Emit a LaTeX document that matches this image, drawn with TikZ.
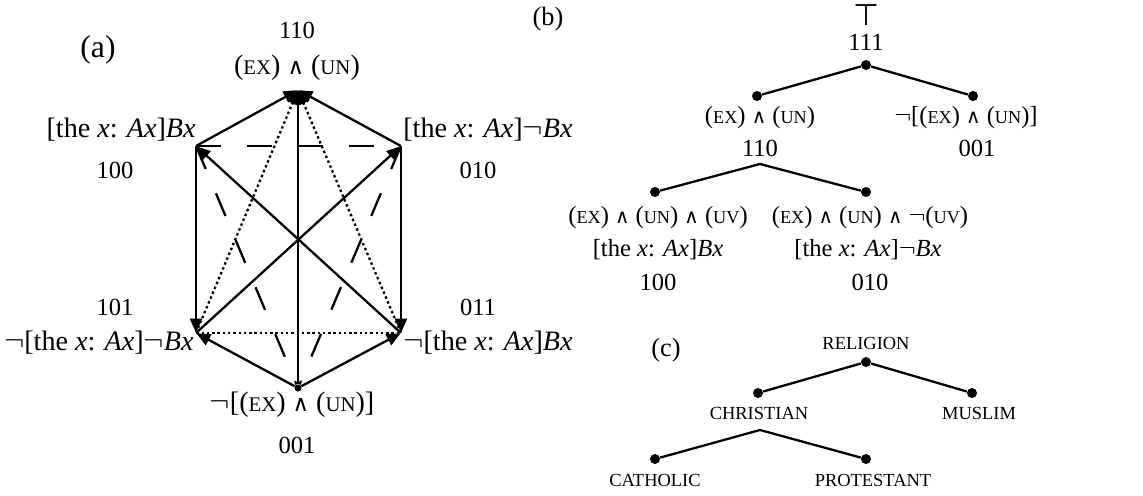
\documentclass[tikz,border=0pt]{standalone}
\usepackage{fontspec}
\setmainfont{Liberation Serif}
\newfontfamily\symfont{DejaVu Sans}
\usepackage{tikz}
\usetikzlibrary{arrows.meta}

\newcommand{\smc}[1]{{\fontsize{0.74em}{1em}\selectfont #1}}
\newcommand{\wdg}{{\symfont\fontsize{0.8em}{1em}\selectfont ∧}}
\newcommand{\thex}{[the \textit{x}: \textit{Ax}]}
\newcommand{\exun}{(\smc{EX}) \wdg{} (\smc{UN})}

\begin{document}
\begin{tikzpicture}[x=0.02cm,y=-0.02cm,>={Triangle[length=2.8mm,width=2.4mm]},
  frm/.style={inner sep=0pt,font=\fontsize{16}{18}\selectfont},
  lbl/.style={inner sep=0pt,font=\fontsize{14}{16}\selectfont},
  cat/.style={inner sep=0pt,font=\fontsize{10.5}{12}\selectfont},
  vtx/.style={inner sep=0pt,minimum size=0pt},
  dot/.style={circle,fill,inner sep=0pt,minimum size=2mm},
  edge/.style={line width=1.3pt},
  longdash/.style={line width=1.3pt,dash pattern=on 14pt off 15pt},
  dots/.style={line width=1.3pt,dash pattern=on 1.4pt off 1.6pt}]
\useasboundingbox (0,0) rectangle (1143,495);

% (a) the hexagon
\node[lbl,font=\fontsize{18}{20}\selectfont] (pa) at (98,50) {(a)};
\node[vtx] (h110) at (298,90) {};
\node[vtx] (h100) at (196,146) {};
\node[vtx] (h010) at (401,146) {};
\node[vtx] (h101) at (196,333) {};
\node[vtx] (h011) at (401,333) {};
\node[dot,minimum size=1.4mm] (h001) at (298,388) {};

\node[lbl] (c110) at (297,30) {110};
\node[frm] (f110) at (297,68) {\exun};
\node[frm,anchor=east] (f100) at (196,130) {\thex\textit{Bx}};
\node[lbl] (c100) at (115,170) {100};
\node[frm,anchor=west] (f010) at (403,130) {\thex$\neg$\textit{Bx}};
\node[lbl] (c010) at (478,170) {010};
\node[lbl] (c101) at (115,307) {101};
\node[frm,anchor=east] (f101) at (194,343) {$\neg$\thex$\neg$\textit{Bx}};
\node[lbl] (c011) at (478,307) {011};
\node[frm,anchor=west] (f011) at (403,343) {$\neg$\thex\textit{Bx}};
\node[frm] (f001) at (292,405) {$\neg$[\exun]};
\node[lbl] (c001) at (297,445) {001};

\draw[longdash] (h100) -- (h010);
\draw[longdash] (h100) -- (h001);
\draw[longdash] (h010) -- (h001);
\draw[dots] (h101) -- (h011);
\draw[dots,->] (h101) -- (h110);
\draw[dots,->] (h011) -- (h110);
\draw[edge,->] (h100) -- (h110);
\draw[edge,->] (h010) -- (h110);
\draw[edge,->] (h001) -- (h110);
\draw[edge,->] (h100) -- (h101);
\draw[edge,->] (h010) -- (h011);
\draw[edge,->] (h011) -- (h100);
\draw[edge,->] (h101) -- (h010);
\draw[edge,->] (h001) -- (h101);
\draw[edge,->] (h001) -- (h011);

% (b) tree
\node[lbl,font=\fontsize{15}{17}\selectfont] (pb) at (548,19) {(b)};
\node[lbl,font=\symfont\fontsize{17}{19}\selectfont] (tt) at (866,15) {⊤};
\node[lbl] (b111) at (866,42) {111};
\node[dot] (r) at (866,65) {};
\node[dot] (l) at (757,96) {};
\node[dot] (rr) at (973,96) {};
\node[lbl] (g110) at (760,118) {\exun};
\node[lbl] (d110) at (760,148) {110};
\node[lbl] (g001) at (966,118) {$\neg$[\exun]};
\node[lbl] (d001) at (977,148) {001};
\coordinate (sb) at (760,164);
\node[dot] (ll) at (655,192) {};
\node[dot] (lr) at (866,192) {};
\node[lbl] (g1) at (658,218) {(\smc{EX}) \wdg{} (\smc{UN}) \wdg{} (\smc{UV})};
\node[lbl] (g2) at (658,250) {\thex\textit{Bx}};
\node[lbl] (d100) at (658,282) {100};
\node[lbl] (g3) at (870,218) {(\smc{EX}) \wdg{} (\smc{UN}) \wdg{} $\neg$(\smc{UV})};
\node[lbl] (g4) at (868,250) {\thex$\neg$\textit{Bx}};
\node[lbl] (d010) at (870,282) {010};
\draw[edge] (l) -- (r) -- (rr);
\draw[edge] (ll) -- (sb) -- (lr);

% (c) tree
\node[lbl,font=\fontsize{15}{17}\selectfont] (pc) at (666,350) {(c)};
\node[cat] (rel) at (866,343) {RELIGION};
\node[dot] (cr) at (866,362) {};
\node[dot] (cl) at (758,393) {};
\node[dot] (cm) at (972,393) {};
\node[cat] (chr) at (759,413) {CHRISTIAN};
\node[cat] (mus) at (979,413) {MUSLIM};
\coordinate (sc) at (760,430);
\node[dot] (cll) at (655,459) {};
\node[dot] (clr) at (866,459) {};
\node[cat] (cat1) at (655,480) {CATHOLIC};
\node[cat] (pro) at (873,480) {PROTESTANT};
\draw[edge] (cl) -- (cr) -- (cm);
\draw[edge] (cll) -- (sc) -- (clr);
\end{tikzpicture}
\end{document}
